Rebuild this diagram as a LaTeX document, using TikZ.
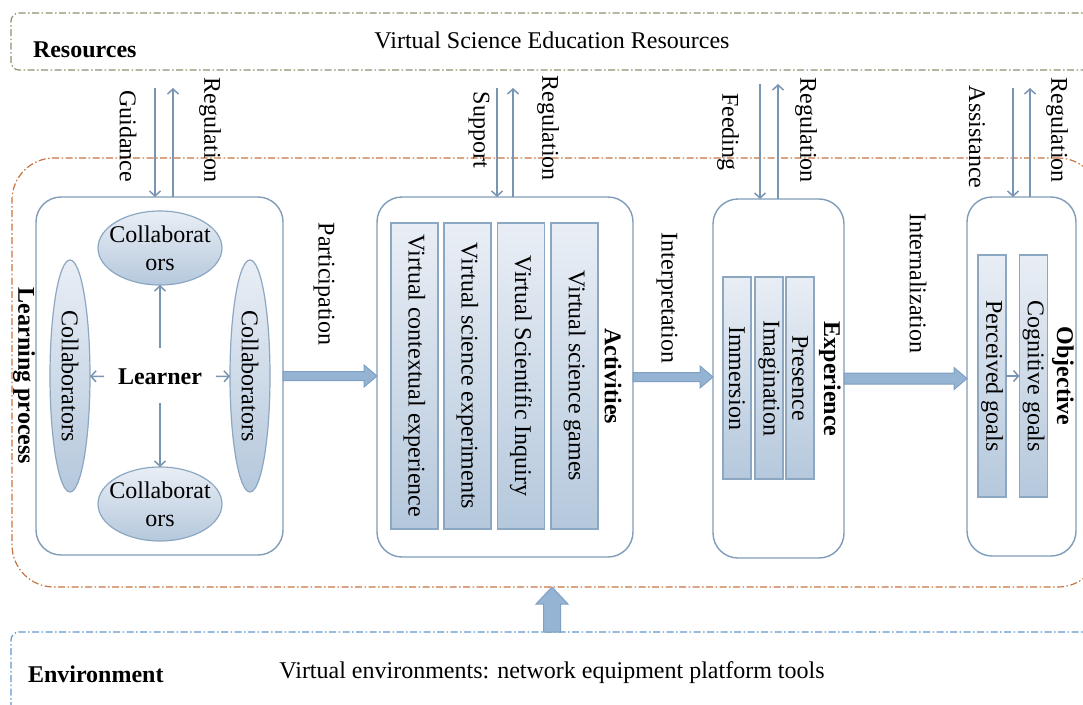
\documentclass[tikz,border=0pt]{standalone}
\usepackage{fontspec}
\setmainfont{Liberation Serif}
\usepackage{graphicx}
\usetikzlibrary{shapes.geometric,arrows.meta,calc}

\definecolor{resline}{HTML}{8C916E}
\definecolor{lpline}{HTML}{C8733F}
\definecolor{envline}{HTML}{5E97CB}
\definecolor{boxline}{HTML}{7F9CB9}
\definecolor{itemline}{HTML}{8CA7C2}
\definecolor{shadetop}{HTML}{E9EEF5}
\definecolor{shadebot}{HTML}{B5C8DC}
\definecolor{arrowline}{HTML}{7895B2}
\definecolor{blockfill}{HTML}{95B4D3}
\definecolor{blockline}{HTML}{7FA0C2}

% horizontal block arrow: start, tip, shaft half width, head half width, head length
\newcommand\hblock[5]{%
  \filldraw[blockarrow] ($(#1)+(0,#3)$) -- ($(#2)+(-#5,#3)$) -- ($(#2)+(-#5,#4)$)
    -- (#2) -- ($(#2)+(-#5,-#4)$) -- ($(#2)+(-#5,-#3)$) -- ($(#1)+(0,-#3)$) -- cycle;}

\begin{document}
\begin{tikzpicture}[x=1pt,y=-1pt,
  every node/.style={font=\fontsize{24}{28}\selectfont, inner sep=0pt, outer sep=0pt},
  boldlbl/.style={font=\fontsize{24}{28}\selectfont\bfseries},
  dframe/.style={draw, line width=1.2pt, dash pattern=on 7pt off 2.5pt on 1.5pt off 2.5pt, anchor=north west},
  groupbox/.style={draw=boxline, line width=1.4pt, rounded corners=25pt, anchor=north west},
  itembox/.style={draw=itemline, line width=1.2pt, top color=shadetop, bottom color=shadebot},
  collab/.style={ellipse, draw=itemline, line width=1.2pt, top color=shadetop, bottom color=shadebot},
  thinarrow/.style={draw=arrowline, line width=1.5pt, -{Straight Barb[length=5pt,width=11pt]}},
  blockarrow/.style={fill=blockfill, draw=blockline, line width=1pt, line join=miter},
]
\useasboundingbox (0,0) rectangle (1083,704);
\begin{scope}
\clip (0,0) rectangle (1083,704);

% outer dash-dot frames
\node[dframe, draw=resline, rounded corners=8pt, minimum width=1089pt, minimum height=57pt] (res) at (11,13) {};
\node[dframe, draw=lpline, rounded corners=42pt, minimum width=1088pt, minimum height=429pt] (lp) at (12,158) {};
\node[dframe, draw=envline, rounded corners=8pt, minimum width=1089pt, minimum height=100pt] (env) at (11,632) {};

\node[boldlbl, anchor=base west] (reslbl) at (33,57) {Resources};
\node[anchor=base] (restext) at (552,48) {Virtual Science Education Resources};
\node[boldlbl, anchor=base west] (envlbl) at (28,682) {Environment};
\node[anchor=base] (envtext) at (552,678) {Virtual environments: network equipment platform tools};
\node[boldlbl, rotate=-90] (lplbl) at (24,376) {Learning process};

% stage boxes
\node[groupbox, minimum width=247pt, minimum height=358pt] (learnbox) at (36,197) {};
\node[groupbox, minimum width=256pt, minimum height=360pt] (actbox) at (377,197) {};
\node[groupbox, minimum width=131pt, minimum height=359pt] (expbox) at (713,199) {};
\node[groupbox, minimum width=109pt, minimum height=359pt] (objbox) at (967,197) {};

% learner and collaborators
\node[boldlbl] (lrn) at (160,377) {Learner};
\node[collab, minimum width=124pt, minimum height=74pt] (ctop) at (160,248) {};
\node[align=center] (ctoptext) at (ctop) {Collaborat\\ors};
\node[collab, minimum width=124pt, minimum height=74pt] (cbot) at (160,504) {};
\node[align=center] (cbottext) at (cbot) {Collaborat\\ors};
\node[collab, minimum width=40pt, minimum height=232pt] (cleft) at (70,376) {\rotatebox{-90}{Collaborators}};
\node[collab, minimum width=40pt, minimum height=232pt] (cright) at (250,376) {\rotatebox{-90}{Collaborators}};
\draw[thinarrow, shorten <=21pt] (lrn) -- (ctop);
\draw[thinarrow, shorten <=18pt] (lrn) -- (cbot);
\draw[thinarrow, shorten <=14pt] (lrn) -- (cleft);
\draw[thinarrow, shorten <=14pt] (lrn) -- (cright);

% activities
\node[itembox, minimum width=47pt, minimum height=306pt] (a1) at (414.5,376) {\rotatebox{-90}{Virtual contextual experience}};
\node[itembox, minimum width=47pt, minimum height=306pt] (a2) at (467.5,376) {\rotatebox{-90}{Virtual science experiments}};
\node[itembox, minimum width=47pt, minimum height=306pt] (a3) at (521,376) {\rotatebox{-90}{Virtual Scientific Inquiry}};
\node[itembox, minimum width=47pt, minimum height=306pt] (a4) at (574.5,376) {\rotatebox{-90}{Virtual science games}};
\node[boldlbl, rotate=-90] (actlbl) at (613,376) {Activities};

% experience
\node[itembox, minimum width=28pt, minimum height=202pt] (e1) at (737,378) {\rotatebox{-90}{Immersion}};
\node[itembox, minimum width=28pt, minimum height=202pt] (e2) at (769,378) {\rotatebox{-90}{Imagination}};
\node[itembox, minimum width=28pt, minimum height=202pt] (e3) at (800,378) {\rotatebox{-90}{Presence}};
\node[boldlbl, rotate=-90] (explbl) at (830,379) {Experience};

% objective
\node[itembox, minimum width=28pt, minimum height=242pt] (perc) at (992,376) {\rotatebox{-90}{Perceived goals}};
\node[itembox, minimum width=28pt, minimum height=242pt] (cogn) at (1033.5,376) {\rotatebox{-90}{Cognitive goals}};
\node[boldlbl, rotate=-90] (objlbl) at (1063,376) {Objective};
\draw[thinarrow] (perc) -- (cogn);

% links to the resources layer
\coordinate (gd) at (155,88);  \draw[thinarrow] (gd) -- (gd |- learnbox.north);
\coordinate (rg1) at (173,88); \draw[thinarrow] (rg1 |- learnbox.north) -- (rg1);
\coordinate (sp) at (497,88);  \draw[thinarrow] (sp) -- (sp |- actbox.north);
\coordinate (rg2) at (513,88); \draw[thinarrow] (rg2 |- actbox.north) -- (rg2);
\coordinate (fd) at (760,84);  \draw[thinarrow] (fd) -- (fd |- expbox.north);
\coordinate (rg3) at (778,84); \draw[thinarrow] (rg3 |- expbox.north) -- (rg3);
\coordinate (as) at (1013,88); \draw[thinarrow] (as) -- (as |- objbox.north);
\coordinate (rg4) at (1030,88);\draw[thinarrow] (rg4 |- objbox.north) -- (rg4);

\node[rotate=-90] (gdlbl) at (128,136) {Guidance};
\node[rotate=-90] (rg1lbl) at (210,130) {Regulation};
\node[rotate=-90] (splbl) at (479,130) {Support};
\node[rotate=-90] (rg2lbl) at (548,128) {Regulation};
\node[rotate=-90] (fdlbl) at (728,132) {Feeding};
\node[rotate=-90] (rg3lbl) at (806,130) {Regulation};
\node[rotate=-90] (aslbl) at (977,137) {Assistance};
\node[rotate=-90] (rg4lbl) at (1057,130) {Regulation};

% block arrows between stages
\hblock{learnbox.east}{learnbox.east -| actbox.west}{4.5}{11}{13}
\hblock{actbox.east}{actbox.east -| expbox.west}{4.5}{11}{13}
\hblock{expbox.east}{expbox.east -| objbox.west}{5.5}{11}{13}
\node[rotate=-90] (partlbl) at (324,284) {Participation};
\node[rotate=-90] (intlbl) at (667,298) {Interpretation};
\node[rotate=-90] (inzlbl) at (918,283) {Internalization};

% environment feeds the learning process
\coordinate (envup) at (552,632);
\filldraw[blockarrow] ($(envup)+(-8.5,0)$) -- ($(envup |- lp.south)+(-8.5,17)$)
  -- ($(envup |- lp.south)+(-16,17)$) -- (envup |- lp.south)
  -- ($(envup |- lp.south)+(16,17)$) -- ($(envup |- lp.south)+(8.5,17)$)
  -- ($(envup)+(8.5,0)$) -- cycle;
\end{scope}
\end{tikzpicture}
\end{document}
